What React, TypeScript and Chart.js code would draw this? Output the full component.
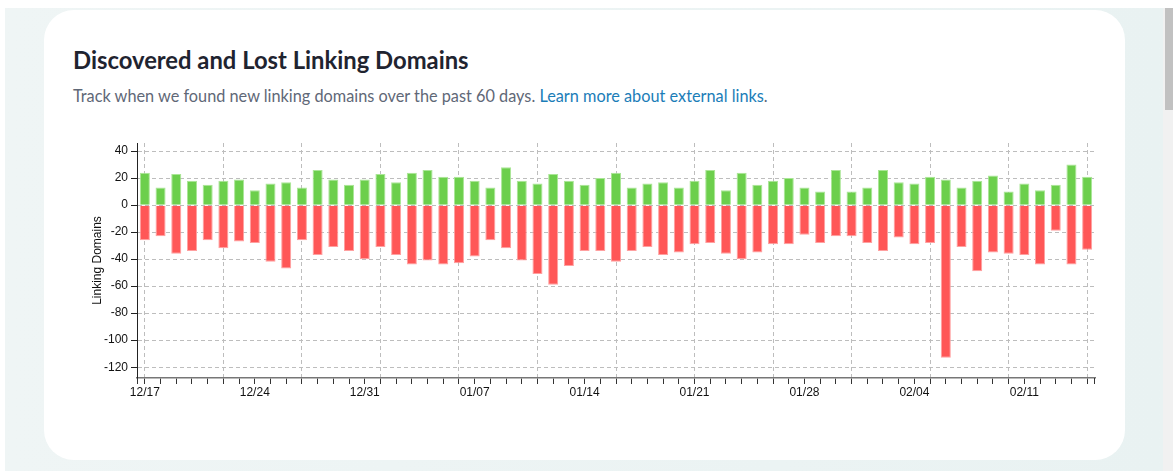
import { useEffect, useRef } from "react";
import { Chart, registerables } from "chart.js";

Chart.register(...registerables);

const dates = [
  "12/17", "12/18", "12/19", "12/20", "12/21", "12/22", "12/23", "12/24", "12/25", "12/26",
  "12/27", "12/28", "12/29", "12/30", "12/31", "01/01", "01/02", "01/03", "01/04", "01/05",
  "01/06", "01/07", "01/08", "01/09", "01/10", "01/11", "01/12", "01/13", "01/14", "01/15",
  "01/16", "01/17", "01/18", "01/19", "01/20", "01/21", "01/22", "01/23", "01/24", "01/25",
  "01/26", "01/27", "01/28", "01/29", "01/30", "01/31", "02/01", "02/02", "02/03", "02/04",
  "02/05", "02/06", "02/07", "02/08", "02/09", "02/10", "02/11", "02/12", "02/13", "02/14",
  "02/15",
];

const tickDates = ["12/17", "12/24", "12/31", "01/07", "01/14", "01/21", "01/28", "02/04", "02/11"];

const discovered = [
  24, 13, 23, 18, 15, 18, 19, 11, 16, 17, 13, 26, 19, 15,
  19, 23, 17, 24, 26, 21, 21, 18, 13, 28, 18, 16, 23, 18, 15, 20,
  24, 13, 16, 17, 13, 18, 26, 11, 24, 15, 18, 20, 13, 10, 26, 10,
  13, 26, 17, 16, 21, 19, 13, 18, 22, 10, 16, 11, 15, 30, 21,
];

const lost = [
  -26, -23, -36, -34, -26, -32, -27, -28, -42, -47, -26, -37, -31, -34,
  -40, -31, -37, -44, -41, -44, -43, -38, -26, -32, -41, -51, -59, -45, -34, -34,
  -42, -34, -31, -37, -35, -29, -28, -36, -40, -35, -29, -29, -22, -28, -23, -23,
  -28, -34, -24, -29, -28, -113, -31, -49, -35, -36, -37, -44, -19, -44, -33,
];

const yTicks = [40, 20, 0, -20, -40, -60, -80, -100, -120];

const GREEN = "rgb(108,207,76)";
const GREEN_EDGE = "rgb(170,230,150)";
const RED = "rgb(255,87,87)";
const RED_EDGE = "rgb(255,160,160)";
const GRID = "#bdbdbd";
const AXIS_FONT = "'Liberation Sans', Arial, sans-serif";

export default function App() {
  const ref = useRef<HTMLCanvasElement>(null);

  useEffect(() => {
    const edgeTicks = {
      id: "edgeTicks",
      afterDraw(c: any) {
        const { ctx, chartArea } = c;
        ctx.save();
        ctx.setLineDash([]);
        ctx.strokeStyle = "#333";
        ctx.lineWidth = 1;
        ctx.beginPath();
        for (const x of [chartArea.left + 0.5, chartArea.right - 0.5]) {
          ctx.moveTo(x, chartArea.bottom);
          ctx.lineTo(x, chartArea.bottom + 6);
        }
        ctx.stroke();
        ctx.restore();
      },
    };

    const chart = new Chart(ref.current!, {
      type: "bar",
      data: {
        labels: dates,
        datasets: [
          {
            label: "Discovered",
            data: discovered,
            backgroundColor: GREEN,
            borderColor: GREEN_EDGE,
            borderWidth: 1,
            barPercentage: 0.64,
            categoryPercentage: 1,
          },
          {
            label: "Lost",
            data: lost,
            backgroundColor: RED,
            borderColor: RED_EDGE,
            borderWidth: 1,
            barPercentage: 0.64,
            categoryPercentage: 1,
          },
        ],
      },
      options: {
        animation: false,
        responsive: false,
        maintainAspectRatio: false,
        layout: { padding: { top: 13, right: 25, bottom: 0, left: 0 } },
        plugins: { legend: { display: false }, tooltip: { enabled: false } },
        scales: {
          x: {
            stacked: true,
            offset: true,
            grid: {
              offset: false,
              color: (ctx: any) => (ctx.index % 5 === 0 ? GRID : "rgba(0,0,0,0)"),
              lineWidth: 1,
              drawTicks: true,
              tickLength: 6,
              tickColor: "#333",
              tickBorderDash: [],
            } as any,
            border: { display: true, color: "#777", width: 1.5, dash: [4, 3] },
            ticks: {
              autoSkip: false,
              maxRotation: 0,
              minRotation: 0,
              padding: 1,
              color: "#111",
              font: { family: AXIS_FONT, size: 12 },
              callback: (_v: any, i: number) => (tickDates.includes(dates[i]) ? dates[i] : ""),
            },
            afterFit: (s: any) => {
              s.height = 32;
            },
          },
          y: {
            stacked: true,
            min: -128,
            max: 46,
            afterBuildTicks: (s: any) => {
              s.ticks = yTicks.map((v) => ({ value: v }));
            },
            afterFit: (s: any) => {
              s.width = 77;
            },
            grid: {
              color: GRID,
              lineWidth: 1,
              drawTicks: true,
              tickLength: 6,
              tickColor: "#222",
              tickBorderDash: [],
            } as any,
            border: { display: true, color: "#222", width: 1, dash: [4, 3] },
            ticks: {
              padding: 3,
              color: "#111",
              font: { family: AXIS_FONT, size: 12 },
            },
            title: {
              display: true,
              text: "Linking Domains",
              color: "#111",
              font: { family: AXIS_FONT, size: 12 },
              padding: { top: 30, bottom: 0 },
            },
          },
        },
      },
      plugins: [edgeTicks],
    });
    return () => chart.destroy();
  }, []);

  return (
    <div style={{ position: "fixed", inset: 0, background: "#fff", overflow: "hidden" }}>
      <div
        style={{
          position: "absolute",
          left: 5,
          top: 8,
          width: 1158,
          height: 463,
          background: "linear-gradient(90deg, #eff5f5 0%, #e9f2f2 100%)",
        }}
      />
      <div
        style={{
          position: "absolute",
          left: 44,
          top: 10,
          width: 1081,
          height: 450,
          background: "#fff",
          borderRadius: 30,
        }}
      />
      <div
        style={{
          position: "absolute",
          left: 73,
          top: 46,
          fontFamily: "Lato, 'Open Sans', sans-serif",
          fontWeight: 700,
          fontSize: 23.8,
          lineHeight: 1.2,
          color: "#1f2430",
          whiteSpace: "nowrap",
        }}
      >
        Discovered and Lost Linking Domains
      </div>
      <div
        style={{
          position: "absolute",
          left: 73,
          top: 85.6,
          fontFamily: "Lato, 'Open Sans', sans-serif",
          fontSize: 16.3,
          lineHeight: 1.2,
          color: "#5f6877",
          whiteSpace: "nowrap",
        }}
      >
        Track when we found new linking domains over the past 60 days.{" "}
        <span style={{ color: "#1b7db8" }}>Learn more about external links</span>.
      </div>
      <div style={{ position: "absolute", left: 60, top: 130, width: 1060, height: 280 }}>
        <canvas ref={ref} width={1060} height={280} style={{ width: 1060, height: 280, display: "block" }} />
      </div>
      <div style={{ position: "absolute", left: 1163, top: 8, width: 10, height: 463, background: "#f1f1f1" }} />
      <div style={{ position: "absolute", left: 1165, top: 8, width: 8, height: 102, background: "#c1c1c1" }} />
    </div>
  );
}
